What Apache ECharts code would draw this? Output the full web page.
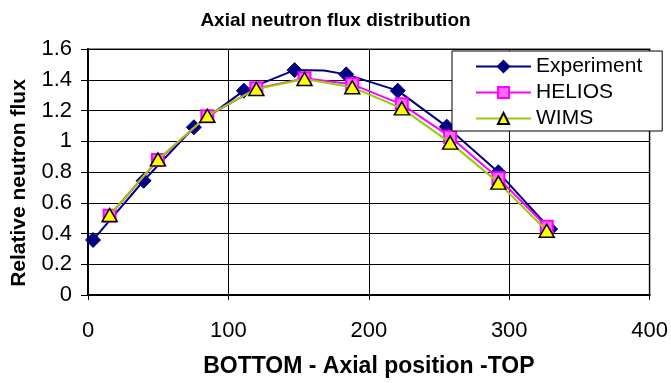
<!DOCTYPE html>
<html>
<head>
<meta charset="utf-8">
<script src="https://cdn.jsdelivr.net/npm/echarts@6/dist/echarts.min.js"></script>
<style>
  html, body { margin: 0; padding: 0; background: #fff; }
  #chart { width: 671px; height: 383px; }
</style>
</head>
<body>
<div id="chart"></div>
<script>
// Axial position (cm from the bottom of the core) and relative flux
var expPos  = [3.6, 39.6, 75.4, 111, 147.1, 183.9, 220.6, 255.5, 292.3, 329.1];
var expFlux = [0.358, 0.743, 1.091, 1.329, 1.463, 1.435, 1.329, 1.095, 0.798, 0.429];
// extra traverse reading between the two peak positions (no marker)
var expMidPos  = [168];
var expMidFlux = [1.46];

var calcPos    = [15.4, 49.8, 85, 119.9, 154.2, 188.2, 223.5, 257.9, 292.3, 326.7];
var heliosFlux = [0.516, 0.878, 1.162, 1.344, 1.409, 1.370, 1.240, 1.030, 0.759, 0.444];
var wimsFlux   = [0.520, 0.882, 1.166, 1.340, 1.405, 1.351, 1.214, 0.991, 0.731, 0.418];

var xTicks = [0, 100, 200, 300, 400];
var yTicks = [0, 0.2, 0.4, 0.6, 0.8, 1, 1.2, 1.4, 1.6];

var FONT = 'Liberation Sans, Arial, sans-serif';

function zipPairs(xs, ys) {
  return xs.map(function (x, i) { return [x, ys[i]]; });
}

// experiment trace: measured points carry markers, the intermediate one does not
var expData = zipPairs(expPos, expFlux).map(function (p) { return { value: p }; })
  .concat(zipPairs(expMidPos, expMidFlux).map(function (p) { return { value: p, symbolSize: 0 }; }))
  .sort(function (a, b) { return a.value[0] - b.value[0]; });

var chart = echarts.init(document.getElementById('chart'), null, { renderer: 'canvas' });

chart.setOption({
  animation: false,
  backgroundColor: '#ffffff',
  title: {
    text: 'Axial neutron flux distribution',
    left: 'center',
    top: 6,
    textStyle: { fontFamily: FONT, fontSize: 19, fontWeight: 'bold', color: '#000' }
  },
  legend: {
    orient: 'vertical',
    left: 452,
    top: 51,
    padding: [5, 20, 2, 23],
    itemWidth: 55,
    itemHeight: 14,
    itemGap: 5,
    backgroundColor: '#ffffff',
    borderColor: '#000000',
    borderWidth: 1,
    textStyle: { fontFamily: FONT, fontSize: 21, color: '#000' },
    data: ['Experiment', 'HELIOS', 'WIMS']
  },
  grid: {
    left: 88,
    right: 21,
    top: 49,
    bottom: 88,
    show: true,
    borderColor: '#8c8c8c',
    borderWidth: 2
  },
  xAxis: {
    type: 'value',
    min: xTicks[0],
    max: xTicks[xTicks.length - 1],
    interval: xTicks[1] - xTicks[0],
    name: 'BOTTOM - Axial position -TOP',
    nameLocation: 'middle',
    nameGap: 60,
    nameTextStyle: { fontFamily: FONT, fontSize: 23, fontWeight: 'bold', color: '#000' },
    axisLine: { lineStyle: { color: '#000', width: 2 } },
    axisTick: { show: true, inside: false, length: 5, lineStyle: { color: '#000', width: 1 } },
    axisLabel: { margin: 25, fontFamily: FONT, fontSize: 22, color: '#000' },
    splitLine: { show: true, lineStyle: { color: '#000', width: 1 } }
  },
  yAxis: {
    type: 'value',
    min: yTicks[0],
    max: yTicks[yTicks.length - 1],
    interval: 0.2,
    name: 'Relative neutron flux',
    nameLocation: 'middle',
    nameGap: 58,
    nameTextStyle: {
      fontFamily: FONT, fontSize: 21, fontWeight: 'bold', color: '#000',
      padding: [0, 22, 0, 0]
    },
    axisLine: { lineStyle: { color: '#000', width: 2 } },
    axisTick: { show: true, inside: false, length: 7, lineStyle: { color: '#000', width: 1 } },
    axisLabel: {
      margin: 16,
      fontFamily: FONT,
      fontSize: 22,
      color: '#000',
      formatter: function (v) { return String(Math.round(v * 10) / 10); }
    },
    splitLine: { show: true, lineStyle: { color: '#000', width: 1 } }
  },
  series: [
    {
      name: 'Experiment',
      type: 'line',
      data: expData,
      symbol: 'diamond',
      symbolSize: 15,
      lineStyle: { color: '#000080', width: 2 },
      itemStyle: { color: '#000080', borderColor: '#000080', borderWidth: 1 },
      z: 2
    },
    {
      name: 'HELIOS',
      type: 'line',
      data: zipPairs(calcPos, heliosFlux),
      symbol: 'rect',
      symbolSize: 12,
      lineStyle: { color: '#ff00ff', width: 2 },
      itemStyle: { color: '#ff66ff', borderColor: '#ff00ff', borderWidth: 2 },
      z: 3
    },
    {
      name: 'WIMS',
      type: 'line',
      data: zipPairs(calcPos, wimsFlux),
      symbol: 'triangle',
      symbolSize: [15, 13],
      lineStyle: { color: '#99cc00', width: 2 },
      itemStyle: { color: '#ffff00', borderColor: '#000000', borderWidth: 1.5 },
      z: 4
    }
  ]
});
</script>
</body>
</html>
